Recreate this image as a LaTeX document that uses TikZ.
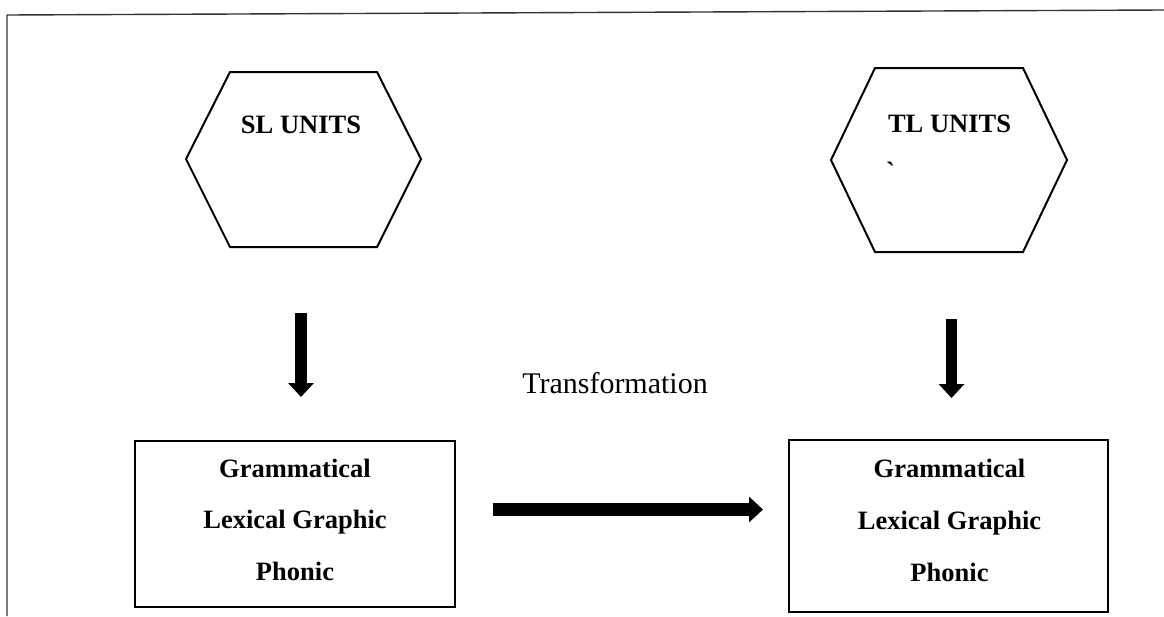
\documentclass[tikz,border=0pt]{standalone}
\usepackage{fontspec}
\setmainfont{Liberation Serif}
\newfontfamily\rawserif{Liberation Serif}
\usetikzlibrary{arrows.meta}
\tikzset{
  hexline/.style={draw=black, line width=2pt, line join=miter},
  boxnode/.style={draw=black, line width=2.2pt, rectangle, inner sep=0pt},
  btext/.style={font=\fontsize{26.5}{30}\selectfont\bfseries, anchor=base, inner sep=0pt},
  blockarrow/.style={line width=#1, -{Triangle[width=25pt,length=14pt]}},
  frameline/.style={draw=black!80, line width=1.4pt}
}
\begin{document}
\begin{tikzpicture}[x=1pt,y=-1pt]
\useasboundingbox (0,0) rectangle (1164,616);
% frame
\coordinate (fbl) at (7,616);
\coordinate (ftl) at (7,15);
\coordinate (ftr) at (1164,10);
\draw[frameline] (fbl) -- (ftl) -- (ftr);
% SL hexagon
\draw[hexline] (186,159) -- (230,72) -- (377,72) -- (421,159) -- (377,247) -- (230,247) -- cycle;
\node[btext] (sl) at (301,133) {SL UNITS};
% TL hexagon
\draw[hexline] (831,160) -- (875,68) -- (1023,68) -- (1067,160) -- (1023,252) -- (875,252) -- cycle;
\node[btext] (tl) at (949.5,132) {TL UNITS};
\node[btext, anchor=base west] (tick) at (886,180) {\rawserif\bfseries\char96};
% boxes
\node[boxnode, minimum width=320pt, minimum height=166pt] (lbox) at (295,524) {};
\node[boxnode, minimum width=319pt, minimum height=172pt] (rbox) at (948.5,526) {};
\node[btext] (l1) at (295,477) {Grammatical};
\node[btext] (l2) at (295,528) {Lexical Graphic};
\node[btext] (l3) at (295,580) {Phonic};
\node[btext] (r1) at (949.5,477) {Grammatical};
\node[btext] (r2) at (949.5,529) {Lexical Graphic};
\node[btext] (r3) at (949.5,581) {Phonic};
% transformation label
\node[font=\fontsize{30}{34}\selectfont, anchor=base east, inner sep=0pt] (trans) at (708,393) {Transformation};
% arrows
\coordinate (a1s) at (301,313);
\coordinate (a1e) at (301,397);
\coordinate (a2s) at (951.5,319);
\coordinate (a2e) at (951.5,398);
\coordinate (a3s) at (493,509.5);
\coordinate (a3e) at (763,509.5);
\draw[blockarrow=12pt] (a1s) -- (a1e);
\draw[blockarrow=11pt] (a2s) -- (a2e);
\draw[blockarrow=13pt] (a3s) -- (a3e);
\end{tikzpicture}
\end{document}
